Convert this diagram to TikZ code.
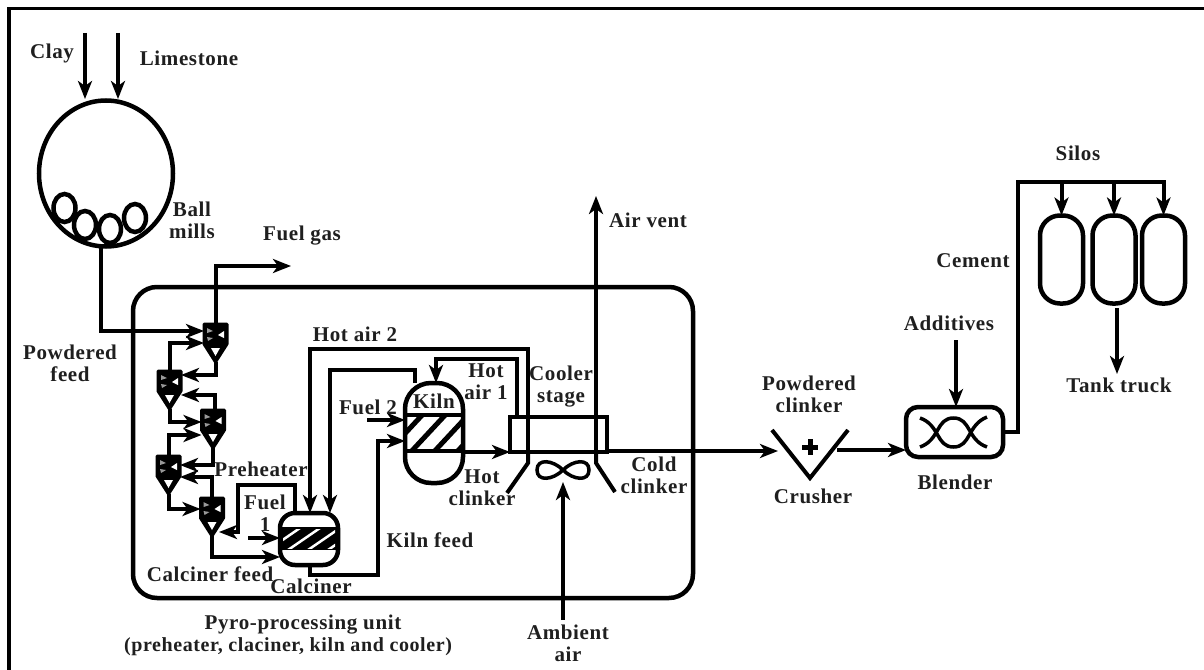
\documentclass[tikz,border=0pt]{standalone}
\usepackage{fontspec}
\setmainfont[LetterSpace=3]{Liberation Serif}
\usetikzlibrary{arrows.meta,calc,shapes.geometric}
\tikzset{
  pipe/.style={line width=4pt,line join=miter},
  flow/.style={line width=4pt,line join=miter,-{Stealth[length=18pt,width=14pt,inset=5pt]}},
  vessel/.style={draw,line width=4.5pt,inner sep=0pt,outer sep=0pt},
  port/.style={inner sep=0pt,outer sep=0pt,minimum width=23pt,minimum height=38pt},
  lab/.style={font=\bfseries\fontsize{21}{22}\selectfont,text=black!88,align=center,inner sep=0pt}
}
\newcommand{\cycshape}[2]{%
  \begin{scope}[shift={(#1,#2)}]
    \fill[black,draw=black,line width=3pt,line join=round] (0,0) -- (23,0) -- (23,20) -- (11.5,38) -- (0,20) -- cycle;
    \fill[white] (7,24) -- (16,24) -- (11.5,32) -- cycle;
    \fill[white] (20,7) -- (20,14) -- (14,11) -- cycle;
    \fill[white!60!black] (3,4) -- (9,7) -- (3,9) -- cycle;
    \fill[white!60!black] (3,13) -- (9,14) -- (4,17) -- cycle;
  \end{scope}}
\begin{document}
\begin{tikzpicture}[x=1pt,y=-1pt]
\useasboundingbox (0,0) rectangle (1204,669);
\fill[white] (0,0) rectangle (1204,669);
\draw[line width=3.5pt] (9,700) -- (9,8.5) -- (1210,8.5);

% ball mill
\node[vessel,ellipse,minimum width=134pt,minimum height=146pt] (mill) at (106,173.5) {};
\node[vessel,ellipse,minimum width=22pt,minimum height=28pt] (b1) at (64.5,208) {};
\node[vessel,ellipse,minimum width=22pt,minimum height=28pt] (b2) at (85,225) {};
\node[vessel,ellipse,minimum width=22pt,minimum height=28pt] (b3) at (110,229) {};
\node[vessel,ellipse,minimum width=22pt,minimum height=28pt] (b4) at (135,218) {};
\coordinate (clayin) at (85,33);
\coordinate (limein) at (118,33);
\draw[flow] (clayin) -- (85,99);
\draw[flow] (limein) -- (118,99);

% pyro unit
\node[draw,line width=4.5pt,rounded corners=24pt,minimum width=560pt,minimum height=311pt,inner sep=0pt] (pyro) at (413,442.5) {};

% cyclones
\node[port] (c1) at (215.5,343) {}; \cycshape{204}{324}
\node[port] (c2) at (169.5,390) {}; \cycshape{158}{371}
\node[port] (c3) at (213,429) {}; \cycshape{201.5}{410}
\node[port] (c4) at (168.5,475) {}; \cycshape{157}{456}
\node[port] (c5) at (212,517) {}; \cycshape{200.5}{498}
\coordinate (c5in) at (219,532);

% mill feed and fuel gas
\draw[flow] (mill.south -| 101,0) -- (101,331) -- (c1.west |- 0,331);
\coordinate (fuelgas) at (291,266);
\draw[flow] (c1.north) -- (215.5,266) -- (fuelgas);

% preheater connections
\draw[flow] (c2.north) -- (169.5,343) -- (c1.west |- 0,343);
\draw[flow] (c1.south) -- (215.5,375) -- (c2.east |- 0,375);
\draw[flow] (c3.north -| 215,0) -- (215,395) -- (c2.east |- 0,395);
\draw[flow] (c2.south) -- (169.5,422) -- (c3.west |- 0,422);
\draw[flow] (c4.north) -- (168.5,435) -- (c3.west |- 0,435);
\draw[flow] (c3.south) -- (213,465) -- (c4.east |- 0,465);
\draw[flow] (c5.north) -- (212,477) -- (c4.east |- 0,477);
\draw[flow] (c4.south) -- (168.5,509) -- (c5.west |- 0,509);

% calciner
\node[vessel,rounded corners=15pt,minimum width=58pt,minimum height=52pt] (calc) at (309,539) {};
\fill[black] (280,527) rectangle (338,550);
\begin{scope}
  \clip (283,529) rectangle (335,548);
  \foreach \d in {0,20,40,60} \draw[white,line width=2.5pt] (268+\d,550) -- (300+\d,528);
\end{scope}
\draw[flow] (calc.north -| 295,0) -- (295,485) -- (238,485) -- (238,532) -- (c5in);
\draw[flow] (c5.south) -- (212,557) -- (calc.west |- 0,557);
\coordinate (fuel1) at (248,538);
\draw[flow] (fuel1) -- (calc.west |- 0,538);

% kiln
\node[vessel,rounded corners=26pt,minimum width=58pt,minimum height=100pt] (kiln) at (434,433) {};
\begin{scope}
  \clip (405,415) rectangle (463,450);
  \foreach \d in {0,23,46,69} \draw[line width=5pt] (385+\d,455) -- (425+\d,412);
\end{scope}
\draw[line width=4pt] (405,415) -- (463,415);
\draw[line width=4pt] (405,451) -- (463,451);
\coordinate (fuel2) at (367,420);
\draw[flow] (fuel2) -- (kiln.west |- 0,420);
\draw[flow] (calc.south -| 310,0) -- (310,575) -- (378,575) -- (378,441) -- (kiln.west |- 0,441);

% cooler
\node[draw,line width=4pt,minimum width=97pt,minimum height=35pt,inner sep=0pt,outer sep=0pt] (cool) at (558.5,434.5) {};
\draw[flow] (cool.south west -| 528,0) -- (528,348.5) -- (310,348.5) -- (calc.north -| 310,0);
\draw[flow] (kiln.north -| 415,0) -- (415,370) -- (330,370) -- (calc.north -| 330,0);
\draw[flow] (cool.north -| 517,0) -- (517,359) -- (436,359) -- (kiln.north -| 436,0);
\draw[flow] (kiln.east |- 0,452) -- (510,452);
\coordinate (hotout) at (507,493);
\coordinate (coldout) at (615,492);
\draw[pipe] (cool.south -| 528,0) -- (528,463) -- (hotout);
\draw[pipe] (cool.south -| 596,0) -- (596,463) -- (coldout);
\coordinate (airvent) at (596,196);
\draw[flow] (cool.south -| 596,0) -- (airvent);
% fan
\node[inner sep=0pt,outer sep=0pt,minimum width=52pt,minimum height=16pt] (fan) at (563,470) {};
\draw[line width=3.5pt] (fan.center) .. controls (553,460) and (537,458) .. (537,470)
   .. controls (537,482) and (553,480) .. (fan.center)
   .. controls (573,460) and (589,458) .. (589,470)
   .. controls (589,482) and (573,480) .. (fan.center);
\coordinate (ambient) at (563,620);
\draw[flow] (ambient) -- (fan.south |- 0,482);

% crusher
\node[inner sep=0pt,outer sep=0pt,minimum width=76pt,minimum height=48pt] (crush) at (810,454) {};
\draw[line width=4pt] (crush.north west) -- (crush.south) -- (crush.north east);
\draw[line width=5pt] (810,439) -- (810,455) (802,447) -- (818,447);
\draw[flow] (cool.south east |- 0,451) -- (778,451);

% blender
\node[vessel,rounded corners=12pt,minimum width=97pt,minimum height=50pt] (blend) at (954.5,432) {};
\draw[flow] (837,450) -- (blend.west |- 0,450);
\draw[line width=3.5pt] (920,418) .. controls (940,425) and (936,447) .. (953.5,447) .. controls (971,447) and (967,425) .. (987,417);
\draw[line width=3.5pt] (920,447) .. controls (940,440) and (936,418) .. (953.5,418) .. controls (971,418) and (967,440) .. (987,447);
\coordinate (addin) at (956,340);
\draw[flow] (addin) -- (blend.north -| 956,0);

% silos
\node[vessel,rounded corners=20pt,minimum width=43pt,minimum height=88pt] (s1) at (1061.5,259.5) {};
\node[vessel,rounded corners=20pt,minimum width=43pt,minimum height=88pt] (s2) at (1114,259.5) {};
\node[vessel,rounded corners=20pt,minimum width=43pt,minimum height=88pt] (s3) at (1163.5,259.5) {};
\draw[flow] (blend.east) -- (1018,432) -- (1018,182) -- (1163.5,182) -- (s3.north);
\draw[flow] (s1.north |- 0,182) -- (s1.north);
\draw[flow] (s2.north |- 0,182) -- (s2.north);
\coordinate (truck) at (1117,374);
\draw[flow] (1117,308) -- (truck);

% labels
\node[lab] (tclay) at (52,53) {Clay};
\node[lab] (tlime) at (189,58) {Limestone};
\node[lab] (tball) at (192,220) {Ball\\mills};
\node[lab] (tgas) at (302,236) {Fuel gas};
\node[lab] (tfeed) at (70,363) {Powdered\\feed};
\node[lab] (tha2) at (355,334) {Hot air 2};
\node[lab] (tf2) at (368,407) {Fuel 2};
\node[lab] (tkiln) at (434,401) {Kiln};
\node[lab] (tha1) at (486,382) {Hot\\air 1};
\node[lab] (tcs) at (561,387) {Cooler\\stage};
\node[lab] (tph) at (261,469) {Preheater};
\node[lab] (tf1) at (265,513) {Fuel\\1};
\node[lab] (tcf) at (210,574) {Calciner feed};
\node[lab] (tcal) at (311,586) {Calciner};
\node[lab] (tkf) at (430,540) {Kiln feed};
\node[lab] (thc) at (482,488) {Hot\\clinker};
\node[lab] (tcc) at (654,475) {Cold\\clinker};
\node[lab] (tpc) at (809,394) {Powdered\\clinker};
\node[lab] (tcr) at (813,496) {Crusher};
\node[lab] (tbl) at (955,482) {Blender};
\node[lab] (tad) at (949,323) {Additives};
\node[lab] (tcm) at (973,261) {Cement};
\node[lab] (tsi) at (1078,153) {Silos};
\node[lab] (ttt) at (1119,385) {Tank truck};
\node[lab] (tvent) at (648,220) {Air vent};
\node[lab] (tpy) at (303,625) {Pyro-processing unit};
\node[lab,font=\bfseries\fontsize{20}{22}\selectfont] (tpz) at (288,647) {(preheater, claciner, kiln and cooler)};
\node[lab] (tam) at (568,643) {Ambient\\air};
\end{tikzpicture}
\end{document}
